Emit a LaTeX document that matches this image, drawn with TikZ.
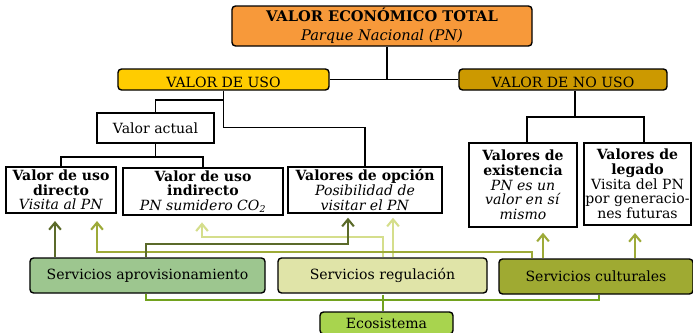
\documentclass[tikz,border=0pt]{standalone}
\usepackage{fontspec}
\setmainfont{DejaVu Serif}
\usetikzlibrary{arrows.meta}

\definecolor{vetorange}{HTML}{F7993A}
\definecolor{usoyellow}{HTML}{FFCC00}
\definecolor{nousogold}{HTML}{CC9900}
\definecolor{aprovgreen}{HTML}{9DC68F}
\definecolor{regulpale}{HTML}{E0E4A8}
\definecolor{cultolive}{HTML}{9FAA32}
\definecolor{ecogreen}{HTML}{A8D44E}
\definecolor{ecoline}{HTML}{72A21E}
\definecolor{aprovline}{HTML}{5B6A2A}
\definecolor{cultline}{HTML}{9DAA38}
\definecolor{regulline}{HTML}{D5DE8C}

\begin{document}
\begin{tikzpicture}[x=0.03cm,y=-0.03cm]
  \tikzset{
    valbox/.style={
      draw=black,
      line width=1.2pt,
      inner sep=0pt,
      align=center,
      font=\fontsize{12}{12.5}\selectfont,
    },
    topbox/.style={
      valbox,
      fill=#1,
      rounded corners=3pt,
    },
    headbox/.style={
      topbox=#1,
      text height=14.5pt,
      text depth=0pt,
    },
    servbox/.style={
      topbox=#1,
      font=\fontsize{12}{13}\selectfont,
    },
    tree line/.style={line width=1.2pt},
    serv arrow/.style={
      draw=#1,
      line width=1.8pt,
      -{Straight Barb[length=6pt,width=10pt]},
    },
    serv arrow/.default=aprovline,
  }
  \useasboundingbox (0,0) rectangle (693,333);

  % valores
  \node[topbox=vetorange, minimum width=9cm, minimum height=1.2cm,
    font=\fontsize{12.5}{16}\selectfont] (vet) at (382,26)
    {\textbf{VALOR ECONÓMICO TOTAL}\\\textit{Parque Nacional (PN)}};
  \node[headbox=usoyellow, minimum width=6.33cm, minimum height=0.63cm] (vu) at (223.5,79.5) {VALOR DE USO};
  \node[headbox=nousogold, minimum width=6.24cm, minimum height=0.63cm] (vnu) at (563,79.5) {VALOR DE NO USO};
  \node[valbox, minimum width=3.51cm, minimum height=0.9cm] (va) at (155.5,128) {Valor actual};
  \node[valbox, minimum width=3.3cm, minimum height=1.38cm] (vud) at (61,190)
    {\textbf{Valor de uso}\\\textbf{directo}\\\textit{Visita al PN}};
  \node[valbox, minimum width=4.8cm, minimum height=1.41cm] (vui) at (203,191.5)
    {\textbf{Valor de uso}\\\textbf{indirecto}\\\textit{PN sumidero CO\textsubscript{2}}};
  \node[valbox, minimum width=4.62cm, minimum height=1.38cm] (vop) at (365,190)
    {\textbf{Valores de opción}\\\textit{Posibilidad de}\\\textit{visitar el PN}};
  \node[valbox, minimum width=3.24cm, minimum height=2.52cm] (vex) at (523,185)
    {\textbf{Valores de}\\\textbf{existencia}\\\textit{PN es un}\\\textit{valor en sí}\\\textit{mismo}};
  \node[valbox, minimum width=3.21cm, minimum height=2.46cm] (vle) at (637.5,184)
    {\textbf{Valores de}\\\textbf{legado}\\Visita del PN\\por generacio-\\nes futuras};

  % servicios
  \node[servbox=aprovgreen, minimum width=7.05cm, minimum height=1.05cm] (sa) at (147.5,275.5) {Servicios aprovisionamiento};
  \node[servbox=regulpale, minimum width=6.27cm, minimum height=1.05cm] (sr) at (382.5,275.5) {Servicios regulación};
  \node[servbox=cultolive, minimum width=5.82cm, minimum height=1.05cm] (sc) at (596,276.5) {Servicios culturales};
  \node[servbox=ecogreen, minimum width=3.99cm, minimum height=0.66cm] (eco) at (386.5,323) {Ecosistema};

  % arbol
  \draw[tree line] (vet.south -| 387,0) -- (vu.east -| 387,0);
  \draw[tree line] (vu.east) -- (vnu.west);
  \draw[tree line] (vu.south) -- ++(0,37) -| (vop.north);
  \draw[tree line] (va.north) |- (vu.south |- 0,100);
  \draw[tree line] (va.south) -- (va.south |- 0,157);
  \draw[tree line] (vud.north) |- (va.south |- 0,157) -| (vui.north);
  \draw[tree line] (vnu.south -| 575,0) -- (575,117);
  \draw[tree line] (vex.north -| 527,0) |- (644,117) -- (vle.north -| 644,0);

  % flechas
  \draw[serv arrow=regulline, shorten >=2mm] (sr.north -| 383,0) |- (202,237) -- (vui.south -| 202,0);
  \draw[serv arrow=regulline, shorten >=1.2mm] (sr.north -| 393,0) -- (vop.south -| 393,0);
  \draw[serv arrow=cultline, shorten >=2.2mm] (sc.north -| 532,0) |- (97,252) -- (vud.south -| 97,0);
  \draw[serv arrow=cultline, shorten >=1.5mm] (sc.north -| 543,0) -- (vex.south -| 543,0);
  \draw[serv arrow=cultline, shorten >=2.2mm] (sc.north -| 635,0) -- (vle.south -| 635,0);
  \draw[serv arrow, shorten >=2.2mm] (sa.north -| 55,0) -- (vud.south -| 55,0);
  \draw[serv arrow, shorten >=1.2mm] (sa.north -| 146,0) -- (146,244) -| (vop.south -| 348,0);

  % ecosistema
  \draw[draw=ecoline, line width=1.8pt] (sa.south -| 146,0) |- (599,300) -- (sc.south -| 599,0);
  \draw[draw=ecoline, line width=1.8pt] (eco.north -| 383,0) -- (383,295);
\end{tikzpicture}
\end{document}
